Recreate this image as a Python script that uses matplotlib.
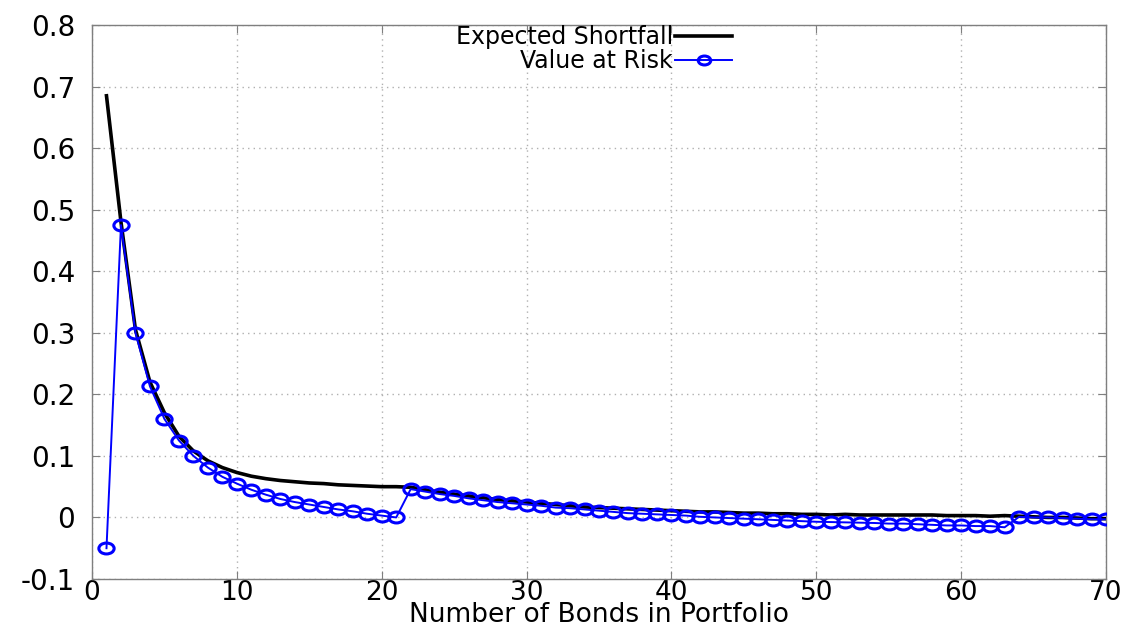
import matplotlib
matplotlib.use("Agg")
import matplotlib.pyplot as plt
from matplotlib.path import Path
from matplotlib.transforms import Affine2D
import numpy as np

plt.rcParams['font.family'] = ['DejaVu Sans']

bonds = list(range(1, 71))

expected_shortfall = [
    0.685, 0.480, 0.305, 0.220, 0.170, 0.132, 0.108, 0.092, 0.081, 0.073,
    0.067, 0.063, 0.060, 0.058, 0.056, 0.055, 0.053, 0.052, 0.051, 0.050,
    0.050, 0.049, 0.045, 0.041, 0.038, 0.035, 0.032, 0.029, 0.027, 0.025,
    0.023, 0.021, 0.019, 0.017, 0.016, 0.015, 0.014, 0.013, 0.012, 0.011,
    0.010, 0.009, 0.009, 0.008, 0.007, 0.007, 0.006, 0.006, 0.005, 0.005,
    0.004, 0.005, 0.004, 0.004, 0.004, 0.004, 0.004, 0.004, 0.003, 0.003,
    0.003, 0.002, 0.003, 0.002, 0.001, 0.000, 0.000, -0.001, -0.002, -0.002,
]

value_at_risk = [
    -0.050, 0.475, 0.300, 0.213, 0.160, 0.125, 0.100, 0.081, 0.066, 0.055,
    0.045, 0.037, 0.030, 0.025, 0.021, 0.017, 0.013, 0.010, 0.006, 0.003,
    0.000, 0.046, 0.042, 0.038, 0.035, 0.031, 0.028, 0.025, 0.023, 0.021,
    0.019, 0.016, 0.015, 0.013, 0.011, 0.009, 0.007, 0.006, 0.005, 0.004,
    0.003, 0.001, 0.000, -0.001, -0.002, -0.003, -0.004, -0.005, -0.006, -0.007,
    -0.0075, -0.008, -0.0085, -0.009, -0.010, -0.010, -0.011, -0.012, -0.013, -0.013,
    -0.014, -0.014, -0.016, 0.001, 0.000, 0.000, -0.001, -0.002, -0.003, -0.003,
]

x_ticks = [0, 10, 20, 30, 40, 50, 60, 70]
y_ticks = [-0.1, 0, 0.1, 0.2, 0.3, 0.4, 0.5, 0.6, 0.7, 0.8]
y_tick_labels = ['-0.1', '0', '0.1', '0.2', '0.3', '0.4', '0.5', '0.6', '0.7', '0.8']

W, H = 1138, 628
fig = plt.figure(figsize=(W / 100, H / 100), dpi=100)
left, right, top, bottom = 92, 1106, 25, 579
ax = fig.add_axes([left / W, 1 - bottom / H, (right - left) / W, (bottom - top) / H])

# slightly wide ellipse marker, as in the reference
ellipse = Affine2D().scale(1.4, 1.0).transform_path(Path.unit_circle())

ax.plot(bonds, expected_shortfall, color='black', lw=2.6, label='Expected Shortfall', zorder=3)
ax.plot(bonds, value_at_risk, color='#0000ff', lw=1.4, marker=ellipse, markersize=11,
        markerfacecolor='none', markeredgecolor='#0000ff', markeredgewidth=2.2,
        label='Value at Risk', zorder=4)

ax.set_xlim(0, 70)
ax.set_ylim(-0.1, 0.8)
ax.set_xticks(x_ticks)
ax.set_yticks(y_ticks)
ax.set_yticklabels(y_tick_labels)

ax.grid(True, color='#b0b0b0', linestyle=(0, (1, 3)), linewidth=1.0)
for s in ax.spines.values():
    s.set_color('#7f7f7f')
    s.set_linewidth(1.0)

ax.tick_params(axis='both', direction='in', length=6, width=0.8, color='#7f7f7f',
               top=True, right=True)
ax.tick_params(axis='y', pad=12, labelsize=20)
ax.tick_params(axis='x', pad=1, labelsize=19)

ax.set_xlabel('Number of Bonds in Portfolio', fontsize=19, va='baseline')
ax.xaxis.set_label_coords(0.5, (bottom - 622) / (bottom - top))

leg = ax.legend(loc='upper right', bbox_to_anchor=((732 - left) / (right - left), 1.0),
                markerfirst=False, frameon=False, fontsize=17, handlelength=2.4,
                handletextpad=0.1, labelspacing=0.0, borderpad=0.0, borderaxespad=0.0,
                numpoints=1)
leg.legend_handles[1].set_markersize(9)

fig.savefig('out.png', dpi=100)
